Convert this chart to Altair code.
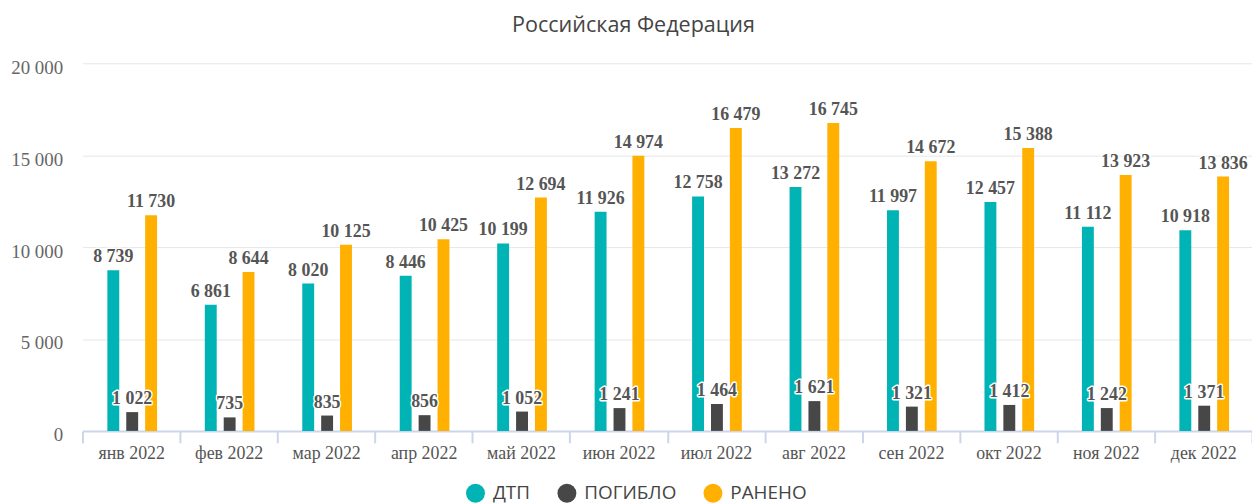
import altair as alt
import pandas as pd

months = ["янв 2022", "фев 2022", "мар 2022", "апр 2022", "май 2022", "июн 2022",
          "июл 2022", "авг 2022", "сен 2022", "окт 2022", "ноя 2022", "дек 2022"]
series = ["ДТП", "ПОГИБЛО", "РАНЕНО"]
colors = ["#00b3b5", "#474747", "#ffb000"]

dtp = [8739, 6861, 8020, 8446, 10199, 11926, 12758, 13272, 11997, 12457, 11112, 10918]
dead = [1022, 735, 835, 856, 1052, 1241, 1464, 1621, 1321, 1412, 1242, 1371]
injured = [11730, 8644, 10125, 10425, 12694, 14974, 16479, 16745, 14672, 15388, 13923, 13836]

rows = []
for name, vals in zip(series, [dtp, dead, injured]):
    for m, v in zip(months, vals):
        rows.append({"month": m, "series": name, "value": v,
                     "label": f"{v:,}".replace(",", " ")})
df = pd.DataFrame(rows)

x = alt.X("month:N", sort=months, title=None,
          scale=alt.Scale(paddingInner=0, paddingOuter=0),
          axis=alt.Axis(labelAngle=0, grid=False,
                        domainColor="#ccd6eb", domainWidth=2,
                        tickColor="#ccd6eb", tickWidth=2, tickSize=12, tickBand="extent",
                        labelFont="Liberation Serif", labelFontSize=18, labelColor="#555555",
                        labelPadding=2))
xo = alt.XOffset("series:N", sort=series,
                 scale=alt.Scale(range=[25, 75], paddingInner=0.37, paddingOuter=0))
y = alt.Y("value:Q", title=None,
          scale=alt.Scale(domain=[0, 20000], nice=False),
          axis=alt.Axis(values=[0, 5000, 10000, 15000, 20000], domain=False, ticks=False,
                        gridColor="#e6e6e6", gridWidth=1,
                        labelExpr="datum.value == 0 ? '0' : format(datum.value / 1000, 'd') + ' 000'",
                        labelFont="Liberation Serif", labelFontSize=19, labelColor="#666666",
                        labelPadding=20, labelOffset=4))

base = alt.Chart(df).encode(x=x, xOffset=xo, y=y)

bars = base.mark_bar().encode(
    color=alt.Color("series:N", sort=series,
                    scale=alt.Scale(domain=series, range=colors),
                    legend=alt.Legend(title=None, orient="none", legendX=386, legendY=423,
                                      direction="horizontal", columns=3,
                                      symbolType="circle", symbolSize=361,
                                      symbolStrokeWidth=0, symbolOpacity=1,
                                      labelFont="Open Sans", labelFontSize=19,
                                      labelColor="#444444", labelOffset=8,
                                      columnPadding=27, padding=0))
)

halo = base.mark_text(baseline="alphabetic", dy=-8, font="Liberation Serif",
                      fontWeight="bold", fontSize=18, stroke="white",
                      strokeWidth=3, strokeJoin="round", fill="white").encode(text="label:N")
labels = base.mark_text(baseline="alphabetic", dy=-8, font="Liberation Serif",
                        fontWeight="bold", fontSize=18, fill="#555555").encode(text="label:N")

chart = alt.layer(bars, halo, labels).properties(
    width=1177, height=370,
    background="white",
    autosize=alt.AutoSizeParams(type="none"),
    padding={"left": 75, "top": 54, "right": 0, "bottom": 80},
    title=alt.TitleParams("Российская Федерация", font="Open Sans", fontSize=21.7,
                          fontWeight="normal", color="#444444", anchor="middle",
                          dx=-34, offset=22),
).configure_view(stroke=None, strokeWidth=0)

chart.save("out.html", embed_options={"renderer": "svg", "actions": False})
